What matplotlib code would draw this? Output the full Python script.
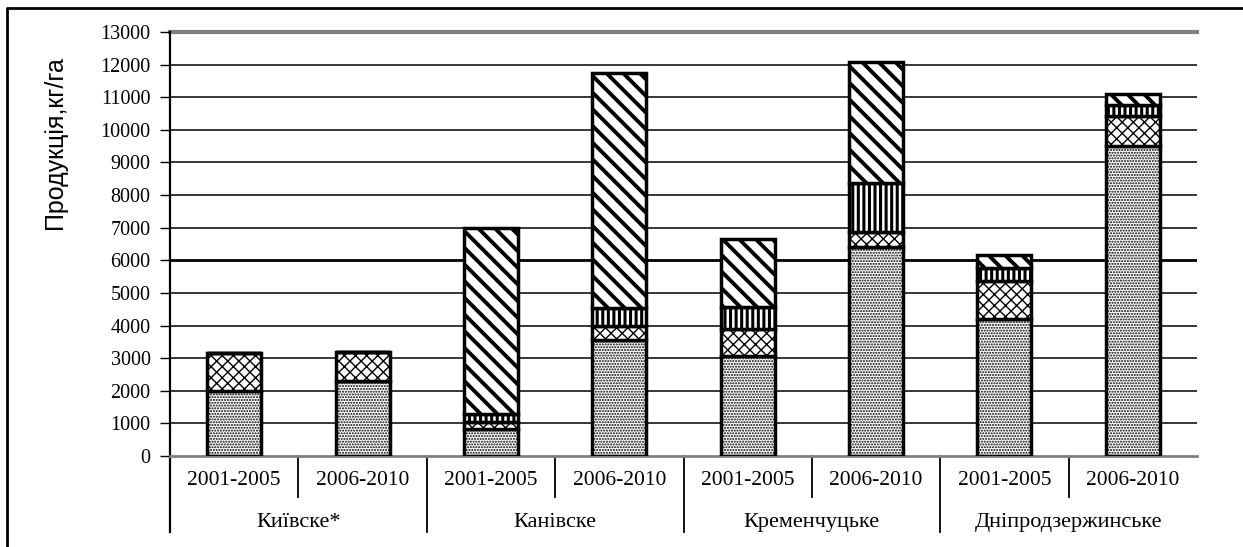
import matplotlib.pyplot as plt
import numpy as np
from matplotlib.lines import Line2D

# ----- data -----
groups = ["Київске*", "Канівске", "Кременчуцьке", "Дніпродзержинське"]
periods = ["2001-2005", "2006-2010"]

# four stacked components, one value per bar (group x period)
dotted = [2000, 2300, 830, 3560, 3070, 6400, 4200, 9510]
crossed = [1150, 900, 210, 430, 830, 460, 1170, 920]
vertical = [0, 0, 250, 550, 670, 1500, 400, 340]
diagonal = [0, 0, 5700, 7200, 2080, 3710, 400, 330]

yticks = list(range(0, 13001, 1000))

fig = plt.figure(figsize=(12.43, 5.47), dpi=100)
ax = fig.add_axes([0.1368, 0.1664, 0.8262, 0.7751])

x = np.arange(len(dotted))
w = 0.42
# (values, hatch, hatch line width)
layers = [
    (dotted, "......", 1.0),
    (crossed, "xxx", 1.0),
    (vertical, "|||", 2.2),
    (diagonal, "\\\\", 2.8),
]
bottom = np.zeros(len(x))
for vals, hatch, hlw in layers:
    vals = np.array(vals, dtype=float)
    bars = ax.bar(x, vals, w, bottom=bottom, color="white", edgecolor="black",
                  hatch=hatch, linewidth=2.5, zorder=3)
    for b in bars:
        try:
            b.set_hatch_linewidth(hlw)
        except AttributeError:
            pass
    bottom += vals

ax.set_xlim(-0.5, len(x) - 0.5)
ax.set_ylim(0, 13000)
ax.set_yticks(yticks)
ax.set_yticklabels([str(v) for v in yticks], family="Liberation Serif",
                   fontsize=14.5)
ax.tick_params(axis="y", direction="out", length=7, width=1, pad=7)
ax.set_xticks([])

# gridlines
for v in yticks[1:-1]:
    ax.axhline(v, color="black", lw=2 if v == 6000 else 1.1, zorder=1)
ax.axhline(13000, color="#808080", lw=3, zorder=1, clip_on=False)

for s in ["top", "right"]:
    ax.spines[s].set_visible(False)
ax.spines["left"].set_linewidth(1.6)
ax.spines["bottom"].set_color("#808080")
ax.spines["bottom"].set_linewidth(2)

# two-level category axis
tr = ax.get_xaxis_transform()
for i in range(len(x) - 1):
    b = i + 0.5
    y_end = -0.18 if i % 2 == 1 else -0.097
    ax.plot([b, b], [0, y_end], color="black", lw=1.3, transform=tr,
            clip_on=False)
ax.plot([-0.5, -0.5], [0, -0.18], color="black", lw=1.6, transform=tr,
        clip_on=False)

for i in range(len(x)):
    ax.text(i, -0.057, periods[i % 2], transform=tr, ha="center",
            va="center", family="Liberation Serif", fontsize=15.5)
for g, name in enumerate(groups):
    ax.text(2 * g + 0.5, -0.156, name, transform=tr, ha="center",
            va="center", family="Liberation Serif", fontsize=16)

fig.text(55 / 1243, 1 - 143 / 547, "Продукція,кг/га", rotation=90,
         ha="center", va="center", family="Liberation Sans", fontsize=18)

# outer frame (top and left edges only visible in the reference)
fig.add_artist(Line2D([7 / 1243, 7 / 1243, 1.0], [0.0, 1 - 8 / 547, 1 - 8 / 547],
                      color="black", lw=2, transform=fig.transFigure))

fig.savefig("out.png", dpi=100)
